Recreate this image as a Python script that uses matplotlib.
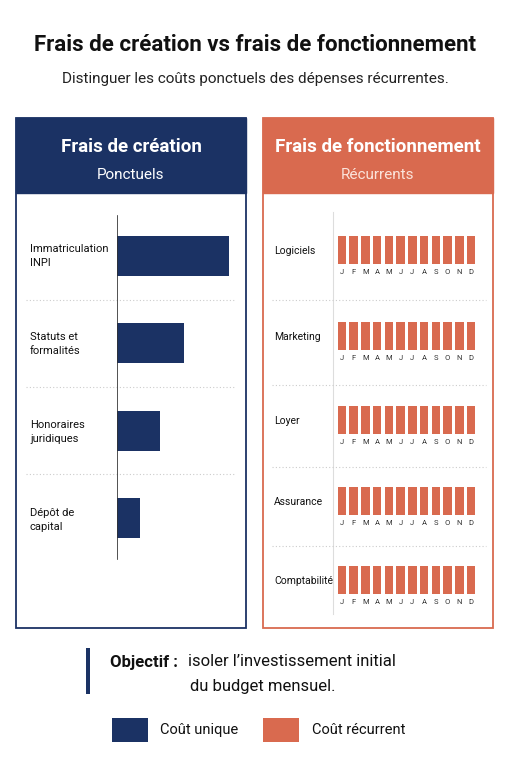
import matplotlib.pyplot as plt
from matplotlib.patches import Rectangle

plt.rcParams['font.family'] = ['Liberation Sans Narrow', 'Roboto', 'DejaVu Sans']

NAVY = '#1b3264'
CORAL = '#d96a4f'

# --- data ---
setup_labels = ['Immatriculation\nINPI', 'Statuts et\nformalités', 'Honoraires\njuridiques', 'Dépôt de\ncapital']
setup_costs = [112, 67, 43, 23]
running_labels = ['Logiciels', 'Marketing', 'Loyer', 'Assurance', 'Comptabilité']
months = ['J', 'F', 'M', 'A', 'M', 'J', 'J', 'A', 'S', 'O', 'N', 'D']
monthly_cost = [1] * 12

W, H = 511, 768
fig = plt.figure(figsize=(W / 100, H / 100), dpi=100)
bg = fig.add_axes([0, 0, 1, 1])
bg.set_xlim(0, W)
bg.set_ylim(H, 0)
bg.axis('off')


def px_axes(x0, y0, x1, y1):
    return fig.add_axes([x0 / W, 1 - y1 / H, (x1 - x0) / W, (y1 - y0) / H])


# titles
bg.text(W / 2, 45, 'Frais de création vs frais de fonctionnement', ha='center', va='center',
        fontsize=16, fontweight='bold', color='#111111')
bg.text(W / 2, 79, 'Distinguer les coûts ponctuels des dépenses récurrentes.', ha='center',
        va='center', fontsize=11, color='#222222')

# panels
for x0, col, t1, t2, sub_col in [(16, NAVY, 'Frais de création', 'Ponctuels', 'white'),
                                 (263, CORAL, 'Frais de fonctionnement', 'Récurrents', '#fbe3da')]:
    bg.add_patch(Rectangle((x0, 118), 230, 510, facecolor='white', edgecolor=col, lw=1.3))
    bg.add_patch(Rectangle((x0, 118), 230, 75, facecolor=col, edgecolor=col))
    bg.text(x0 + 115, 147, t1, ha='center', va='center', fontsize=13.5, fontweight='bold',
            color='white')
    bg.text(x0 + 115, 175, t2, ha='center', va='center', fontsize=11, color=sub_col)

# left separators
for y in [300, 387, 474]:
    bg.plot([26, 236], [y, y], color='#cccccc', lw=0.8, ls=(0, (1, 2)))

# left bar chart
axl = px_axes(117, 212, 240, 562)
axl.barh(range(len(setup_costs)), setup_costs, height=0.46, color=NAVY)
axl.set_ylim(len(setup_costs) - 0.5, -0.5)
axl.set_xlim(0, 123)
axl.axis('off')
axl.axvline(0, color='#333333', lw=1.2, ymin=0.01, ymax=0.99)
for i, lab in enumerate(setup_labels):
    bg.text(30, 256 + i * 88, lab, ha='left', va='center', fontsize=8, color='#111111',
            linespacing=1.45)

# right: vertical line + separators
bg.plot([333, 333], [212, 614], color='#dddddd', lw=0.8)
for y in [300, 385, 467, 546]:
    bg.plot([272, 486], [y, y], color='#cccccc', lw=0.8, ls=(0, (1, 2)))

row_y = [251, 337, 421, 502, 581]
for y, lab in zip(row_y, running_labels):
    bg.text(274, y, lab, ha='left', va='center', fontsize=7.5, color='#111111')
    ax = px_axes(336, y - 15, 477, y + 13)
    ax.bar(range(12), monthly_cost, width=0.72, color=CORAL)
    ax.set_xlim(-0.5, 11.5)
    ax.set_ylim(0, 1)
    ax.axis('off')
    for i, m in enumerate(months):
        bg.text(336 + (i + 0.5) * 141 / 12, y + 21, m, ha='center', va='center',
                fontsize=5.5, color='#333333')

# objective
bg.add_patch(Rectangle((86, 648), 4, 46, facecolor=NAVY))
bg.text(110, 662, 'Objectif :', ha='left', va='center', fontsize=12, fontweight='bold',
        color='#111111')
bg.text(188, 662, 'isoler l’investissement initial', ha='left', va='center', fontsize=12,
        color='#111111')
bg.text(190, 686, 'du budget mensuel.', ha='left', va='center', fontsize=12, color='#111111')

# legend
bg.add_patch(Rectangle((112, 718), 36, 24, facecolor=NAVY))
bg.text(160, 730, 'Coût unique', ha='left', va='center', fontsize=10.5, color='#111111')
bg.add_patch(Rectangle((263, 718), 36, 24, facecolor=CORAL))
bg.text(312, 730, 'Coût récurrent', ha='left', va='center', fontsize=10.5, color='#111111')

fig.savefig('out.png', dpi=100)
